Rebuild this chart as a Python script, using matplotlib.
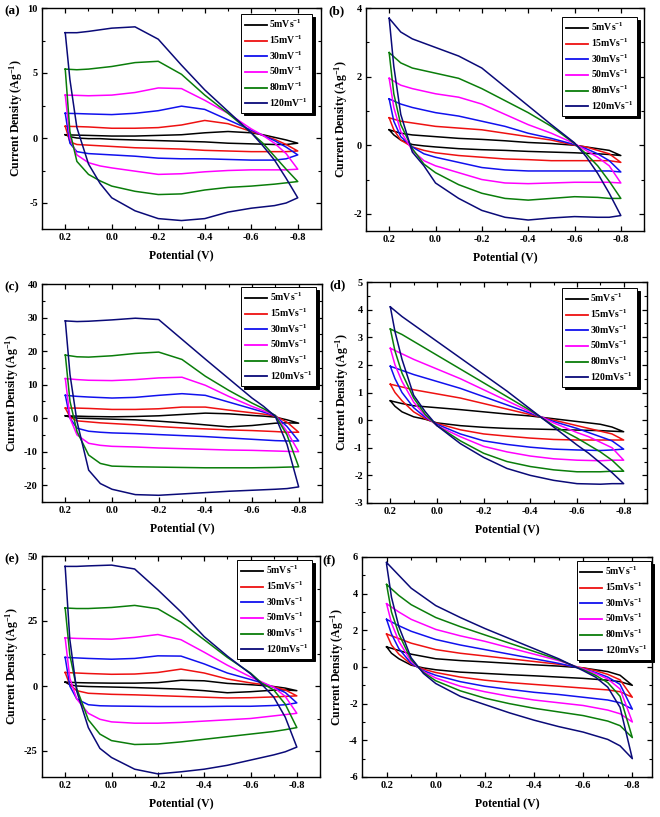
import numpy as np
import matplotlib
matplotlib.use("Agg")
import matplotlib.pyplot as plt
from matplotlib.ticker import MultipleLocator, FormatStrFormatter

plt.rcParams['font.family'] = ['Liberation Serif', 'DejaVu Serif']
plt.rcParams['font.weight'] = 'bold'
plt.rcParams['mathtext.fontset'] = 'custom'
plt.rcParams['mathtext.rm'] = 'Liberation Serif:bold'
plt.rcParams['mathtext.it'] = 'Liberation Serif:italic:bold'
plt.rcParams['mathtext.bf'] = 'Liberation Serif:bold'
plt.rcParams['axes.unicode_minus'] = False

# ===============================
# DATA
# ===============================

# potential grid for the forward (upper) and reverse (lower) branch
XU = [0.2, 0.15, 0.1, 0.0, -0.1, -0.2, -0.3, -0.4, -0.5, -0.6, -0.65, -0.7, -0.75, -0.8]
XL = [-0.8, -0.75, -0.7, -0.6, -0.5, -0.4, -0.3, -0.2, -0.1, 0.0, 0.05, 0.1, 0.15, 0.18, 0.2]

scan_rates = [5, 15, 30, 50, 80, 120]
labels_a = ['5mVs$^{-1}$', '15mV$^{-1}$', '30mV$^{-1}$', '50mV$^{-1}$', '80mV$^{-1}$', '120mV$^{-1}$']
labels_std = [f'{r}mVs$^{{-1}}$' for r in scan_rates]
colors = ['#000000', '#ee1111', '#1111ee', '#ff00ff', '#0a7d0a', '#0a0a78']

a_upper = [
    [0.25, 0.22, 0.2, 0.15, 0.15, 0.2, 0.25, 0.4, 0.5, 0.4, 0.25, 0.05, -0.15, -0.4],
    [0.9, 0.88, 0.85, 0.75, 0.75, 0.8, 1.0, 1.35, 1.1, 0.5, 0.2, -0.1, -0.5, -1.0],
    [1.9, 1.88, 1.85, 1.8, 1.9, 2.1, 2.45, 2.2, 1.4, 0.6, 0.2, -0.2, -0.7, -1.3],
    [3.3, 3.28, 3.25, 3.3, 3.5, 3.85, 3.8, 2.9, 1.9, 0.7, 0.2, -0.4, -1.2, -2.4],
    [5.3, 5.25, 5.3, 5.5, 5.8, 5.9, 4.9, 3.3, 1.9, 0.4, -0.4, -1.4, -2.4, -3.35],
    [8.1, 8.1, 8.2, 8.45, 8.55, 7.6, 5.6, 3.7, 2.05, 0.4, -0.6, -1.7, -3.1, -4.6],
]
a_lower = [
    [-0.4, -0.5, -0.5, -0.45, -0.4, -0.3, -0.25, -0.2, -0.15, -0.1, -0.05, -0.05, 0.0, 0.1, 0.25],
    [-1.0, -1.05, -1.05, -1.05, -1.0, -0.95, -0.85, -0.8, -0.75, -0.65, -0.6, -0.55, -0.5, -0.3, 0.9],
    [-1.3, -1.6, -1.7, -1.7, -1.65, -1.6, -1.6, -1.55, -1.4, -1.3, -1.25, -1.2, -1.05, -0.4, 1.9],
    [-2.4, -2.45, -2.45, -2.45, -2.5, -2.6, -2.75, -2.8, -2.55, -2.3, -2.15, -1.9, -1.3, 0.0, 3.3],
    [-3.35, -3.45, -3.55, -3.7, -3.8, -4.0, -4.3, -4.35, -4.1, -3.7, -3.3, -2.8, -1.8, 0.5, 5.3],
    [-4.6, -5.0, -5.2, -5.4, -5.7, -6.2, -6.35, -6.2, -5.6, -4.6, -3.5, -2.0, 0.8, 4.5, 8.1],
]

b_upper = [
    [0.45, 0.35, 0.3, 0.25, 0.2, 0.17, 0.13, 0.08, 0.05, 0.0, -0.05, -0.1, -0.15, -0.3],
    [0.8, 0.7, 0.65, 0.55, 0.5, 0.45, 0.35, 0.25, 0.15, 0.0, -0.05, -0.15, -0.25, -0.5],
    [1.35, 1.2, 1.1, 0.95, 0.85, 0.7, 0.55, 0.35, 0.2, 0.02, -0.1, -0.25, -0.45, -0.78],
    [1.95, 1.75, 1.65, 1.5, 1.4, 1.2, 0.9, 0.6, 0.35, 0.05, -0.15, -0.35, -0.6, -1.1],
    [2.7, 2.4, 2.25, 2.1, 1.95, 1.65, 1.3, 0.95, 0.55, 0.05, -0.25, -0.6, -1.05, -1.55],
    [3.7, 3.3, 3.1, 2.85, 2.6, 2.25, 1.7, 1.15, 0.6, 0.07, -0.33, -0.82, -1.4, -2.05],
]
b_lower = [
    [-0.3, -0.27, -0.25, -0.22, -0.2, -0.18, -0.15, -0.13, -0.1, -0.05, -0.02, 0.02, 0.15, 0.3, 0.45],
    [-0.5, -0.45, -0.45, -0.45, -0.45, -0.42, -0.4, -0.35, -0.3, -0.22, -0.15, -0.05, 0.15, 0.45, 0.8],
    [-0.78, -0.75, -0.75, -0.75, -0.75, -0.75, -0.72, -0.65, -0.5, -0.35, -0.25, -0.05, 0.25, 0.7, 1.35],
    [-1.1, -1.08, -1.08, -1.08, -1.1, -1.12, -1.1, -1.0, -0.8, -0.6, -0.45, -0.15, 0.4, 1.1, 1.95],
    [-1.55, -1.55, -1.52, -1.5, -1.55, -1.6, -1.55, -1.4, -1.15, -0.8, -0.55, -0.1, 0.6, 1.5, 2.7],
    [-2.05, -2.1, -2.1, -2.08, -2.12, -2.18, -2.1, -1.9, -1.55, -1.1, -0.6, -0.2, 0.9, 2.3, 3.7],
]

c_upper = [
    [0.7, 0.6, 0.5, 0.4, 0.5, 0.7, 1.1, 1.5, 1.3, 0.8, 0.6, 0.3, -0.5, -1.5],
    [3.0, 3.0, 2.9, 2.6, 2.6, 2.8, 3.3, 3.3, 2.4, 1.6, 1.2, 0.6, -1.2, -4.2],
    [6.8, 6.5, 6.3, 6.0, 6.2, 6.8, 7.3, 6.8, 4.8, 2.8, 1.8, 0.7, -2.5, -6.8],
    [11.8, 11.5, 11.3, 11.2, 11.5, 12.0, 12.2, 9.8, 6.5, 3.5, 2.2, 0.8, -4.0, -10.0],
    [18.8, 18.3, 18.2, 18.6, 19.3, 19.7, 17.5, 12.5, 8.3, 4.5, 2.8, 0.8, -5.0, -14.5],
    [29.0, 28.8, 28.9, 29.3, 29.8, 29.4, 23.5, 17.6, 11.8, 6.0, 3.5, 0.5, -7.8, -20.5],
]
c_lower = [
    [-1.5, -1.4, -1.5, -2.2, -2.6, -2.0, -1.4, -0.9, -0.5, -0.3, -0.2, -0.1, 0.0, 0.3, 0.7],
    [-4.2, -4.2, -4.0, -3.7, -3.5, -3.2, -2.9, -2.5, -2.0, -1.6, -1.4, -1.1, -0.8, 0.3, 3.0],
    [-6.8, -6.8, -6.7, -6.3, -5.9, -5.5, -5.2, -4.9, -4.6, -4.4, -4.2, -3.9, -3.0, 0.0, 6.8],
    [-10.0, -9.9, -9.8, -9.6, -9.5, -9.3, -9.1, -8.9, -8.6, -8.4, -8.1, -7.5, -5.0, 0.0, 11.8],
    [-14.5, -14.6, -14.7, -14.8, -14.8, -14.8, -14.7, -14.6, -14.5, -14.3, -13.5, -11.0, -4.0, 5.0, 18.8],
    [-20.5, -21.0, -21.2, -21.5, -21.8, -22.2, -22.6, -23.0, -22.8, -21.2, -19.5, -15.5, -1.0, 13.0, 29.0],
]

d_upper = [
    [0.7, 0.6, 0.52, 0.45, 0.38, 0.3, 0.22, 0.15, 0.05, -0.05, -0.1, -0.15, -0.25, -0.42],
    [1.3, 1.2, 1.1, 0.95, 0.8, 0.6, 0.4, 0.2, 0.0, -0.2, -0.3, -0.4, -0.5, -0.72],
    [1.95, 1.8, 1.65, 1.4, 1.15, 0.85, 0.55, 0.25, -0.05, -0.3, -0.45, -0.6, -0.75, -1.05],
    [2.6, 2.4, 2.2, 1.85, 1.5, 1.1, 0.7, 0.3, -0.1, -0.45, -0.6, -0.8, -1.0, -1.45],
    [3.3, 3.1, 2.85, 2.35, 1.85, 1.35, 0.85, 0.35, -0.2, -0.65, -0.9, -1.15, -1.45, -1.85],
    [4.1, 3.75, 3.45, 2.85, 2.25, 1.65, 1.05, 0.4, -0.25, -0.9, -1.2, -1.55, -1.9, -2.3],
]
d_lower = [
    [-0.42, -0.4, -0.38, -0.36, -0.34, -0.32, -0.3, -0.26, -0.2, -0.1, 0.03, 0.12, 0.3, 0.5, 0.7],
    [-0.72, -0.72, -0.72, -0.72, -0.7, -0.65, -0.58, -0.5, -0.35, -0.12, 0.05, 0.3, 0.7, 1.0, 1.3],
    [-1.05, -1.08, -1.1, -1.08, -1.05, -0.98, -0.88, -0.75, -0.5, -0.15, 0.1, 0.45, 1.0, 1.5, 1.95],
    [-1.45, -1.45, -1.47, -1.45, -1.4, -1.3, -1.15, -0.95, -0.6, -0.2, 0.15, 0.65, 1.4, 2.0, 2.6],
    [-1.85, -1.85, -1.87, -1.87, -1.8, -1.68, -1.5, -1.2, -0.75, -0.2, 0.2, 0.8, 1.7, 2.5, 3.3],
    [-2.3, -2.3, -2.32, -2.3, -2.18, -2.0, -1.75, -1.35, -0.85, -0.2, 0.3, 0.9, 2.2, 3.2, 4.1],
]

e_upper = [
    [1.5, 1.3, 1.2, 1.1, 1.1, 1.3, 2.2, 2.0, 1.0, 0.5, 0.2, -0.2, -0.8, -1.8],
    [5.2, 5.0, 4.8, 4.5, 4.6, 5.2, 6.5, 5.0, 2.7, 1.2, 0.6, -0.3, -1.5, -3.8],
    [11.0, 10.8, 10.6, 10.3, 10.6, 11.6, 11.5, 8.5, 5.0, 2.5, 1.2, -0.5, -2.5, -6.5],
    [18.5, 18.3, 18.2, 18.0, 18.7, 19.8, 17.8, 13.0, 8.0, 3.5, 1.5, -0.5, -4.0, -10.5],
    [30.0, 29.8, 29.8, 30.2, 31.0, 29.7, 24.5, 17.8, 11.0, 5.0, 1.0, -1.5, -7.0, -16.0],
    [46.0, 46.0, 46.2, 46.5, 45.0, 37.0, 28.5, 19.0, 11.5, 4.7, 0.5, -4.2, -12.0, -23.5],
]
e_lower = [
    [-1.8, -1.5, -1.6, -2.2, -2.6, -1.8, -1.2, -0.9, -0.6, -0.4, -0.3, -0.2, 0.0, 0.5, 1.5],
    [-3.8, -4.0, -4.2, -4.5, -4.6, -4.3, -4.0, -3.7, -3.4, -3.2, -3.0, -2.8, -1.8, 0.5, 5.2],
    [-6.5, -7.2, -7.5, -7.8, -7.8, -7.9, -7.9, -7.9, -7.8, -7.7, -7.6, -7.2, -5.0, 0.0, 11.0],
    [-10.5, -11.0, -11.5, -12.5, -13.0, -13.5, -14.0, -14.3, -14.3, -13.8, -12.8, -10.5, -5.0, 3.0, 18.5],
    [-16.0, -16.8, -17.5, -18.5, -19.5, -20.5, -21.5, -22.3, -22.5, -21.0, -18.5, -13.0, -1.0, 12.0, 30.0],
    [-23.5, -25.3, -26.5, -28.5, -30.5, -32.0, -33.0, -33.8, -32.0, -27.5, -24.0, -16.0, -2.0, 18.0, 46.0],
]

f_upper = [
    [1.1, 0.9, 0.7, 0.45, 0.35, 0.28, 0.2, 0.12, 0.05, -0.05, -0.15, -0.25, -0.45, -1.0],
    [1.8, 1.55, 1.3, 0.95, 0.75, 0.6, 0.45, 0.3, 0.15, -0.05, -0.2, -0.4, -0.7, -1.65],
    [2.6, 2.25, 1.95, 1.5, 1.2, 0.95, 0.7, 0.45, 0.2, -0.1, -0.3, -0.55, -0.95, -2.3],
    [3.45, 3.0, 2.6, 2.05, 1.7, 1.4, 1.05, 0.7, 0.35, -0.1, -0.35, -0.65, -1.2, -3.0],
    [4.5, 3.9, 3.4, 2.7, 2.2, 1.75, 1.3, 0.85, 0.4, -0.15, -0.45, -0.85, -1.6, -3.85],
    [5.7, 5.0, 4.3, 3.35, 2.7, 2.1, 1.55, 1.0, 0.45, -0.2, -0.55, -1.1, -2.2, -5.0],
]
f_lower = [
    [-1.0, -0.8, -0.72, -0.62, -0.55, -0.48, -0.42, -0.35, -0.28, -0.15, -0.05, 0.1, 0.45, 0.75, 1.1],
    [-1.65, -1.35, -1.25, -1.15, -1.05, -0.95, -0.85, -0.72, -0.55, -0.3, -0.12, 0.15, 0.7, 1.2, 1.8],
    [-2.3, -1.95, -1.8, -1.65, -1.5, -1.38, -1.22, -1.05, -0.8, -0.45, -0.2, 0.2, 1.0, 1.8, 2.6],
    [-3.0, -2.55, -2.35, -2.1, -1.95, -1.8, -1.6, -1.35, -1.05, -0.6, -0.25, 0.3, 1.4, 2.4, 3.45],
    [-3.85, -3.2, -2.95, -2.65, -2.45, -2.25, -2.0, -1.7, -1.3, -0.75, -0.3, 0.4, 1.8, 3.0, 4.5],
    [-5.0, -4.3, -3.95, -3.55, -3.25, -2.9, -2.5, -2.05, -1.6, -0.9, -0.35, 0.5, 2.2, 3.8, 5.6],
]

# ===============================
# LAYOUT
# ===============================

W, H = 660, 817

# name, upper, lower, labels, ylim, major step, axes box in pixels (left, top, right, bottom),
# xlim, legend anchor (axes fraction)
panels = [
    ('(a)', a_upper, a_lower, labels_a, (-7, 10), 5, (42, 8, 321, 229), (0.3, -0.9), (0.968, 0.973)),
    ('(b)', b_upper, b_lower, labels_std, (-2.5, 4), 2, (366, 8, 644, 231), (0.3, -0.9), (0.975, 0.96)),
    ('(c)', c_upper, c_lower, labels_std, (-25, 40), 10, (42, 284, 322, 502), (0.3, -0.9), (0.979, 0.986)),
    ('(d)', d_upper, d_lower, labels_std, (-3, 5), 1, (367, 282, 647, 503), (0.3, -0.9), (0.964, 0.973)),
    ('(e)', e_upper, e_lower, labels_std, (-35, 50), 25, (42, 556, 320, 777), (0.3, -0.9), (0.971, 0.982)),
    ('(f)', f_upper, f_lower, labels_std, (-6, 6), 2, (362, 557, 652, 777), (0.3, -0.88), (0.997, 0.982)),
]

fig = plt.figure(figsize=(W / 100, H / 100), dpi=100)

for name, upper, lower, labels, ylim, step, box, xlim, anchor in panels:
    l, t, r, b = box
    ax = fig.add_axes([l / W, 1 - b / H, (r - l) / W, (b - t) / H])

    for up, lo, col, lab in zip(upper, lower, colors, labels):
        x = XU + XL + [XU[0]]
        y = up + lo + [up[0]]
        ax.plot(x, y, color=col, lw=1.1, label=lab, solid_joinstyle='round')

    ax.set_xlim(*xlim)
    ax.set_ylim(*ylim)
    ax.xaxis.set_major_locator(MultipleLocator(0.2))
    ax.xaxis.set_minor_locator(MultipleLocator(0.1))
    ax.xaxis.set_major_formatter(FormatStrFormatter('%.1f'))
    ax.yaxis.set_major_locator(MultipleLocator(step))
    ax.yaxis.set_minor_locator(MultipleLocator(step / 2))
    ax.tick_params(which='both', direction='in', top=True, right=True, labelsize=7.5, pad=3)
    ax.tick_params(which='major', length=3.5, width=0.9)
    ax.tick_params(which='minor', length=2, width=0.8)
    for sp in ax.spines.values():
        sp.set_linewidth(1.0)

    ax.set_xlabel('Potential (V)', fontsize=8.5, fontweight='bold', labelpad=5)
    ax.set_ylabel('Current Density (Ag$^{-1}$)', fontsize=8.5, fontweight='bold', labelpad=2)
    ax.text(-0.135, 0.985, name, transform=ax.transAxes, ha='left', va='center',
            fontsize=9.5, fontweight='bold')

    leg = ax.legend(loc='upper right', bbox_to_anchor=anchor, borderaxespad=0,
                    fontsize=7, frameon=True, fancybox=False, edgecolor='black',
                    framealpha=1, handlelength=2.2, handletextpad=0.3,
                    labelspacing=0.34, borderpad=0.4,
                    shadow={'color': 'black', 'alpha': 1})
    leg.get_frame().set_linewidth(0.7)
    for line in leg.get_lines():
        line.set_linewidth(1.3)

fig.savefig('out.png', dpi=100)
